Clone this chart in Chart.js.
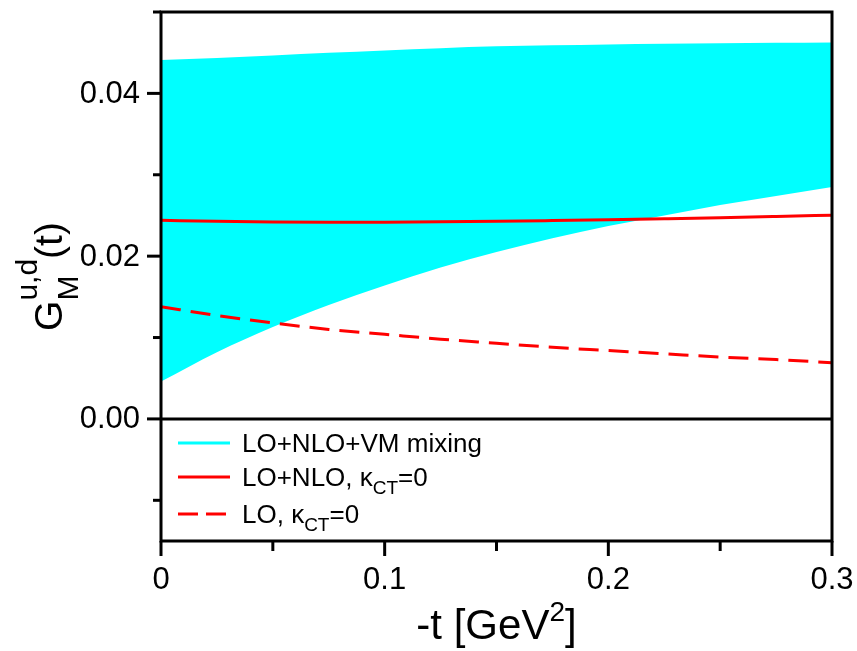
<!DOCTYPE html>
<html>
<head>
<meta charset="utf-8">
<script src="https://cdn.jsdelivr.net/npm/chart.js@4/dist/chart.umd.min.js"></script>
<style>
  html, body { margin: 0; padding: 0; background: #ffffff; }
  #wrap { width: 857px; height: 651px; }
</style>
</head>
<body>
<div id="wrap"><canvas id="c" width="857" height="651"></canvas></div>
<script>
// ---- data ----
const tValues   = [0, 0.025, 0.05, 0.075, 0.1, 0.125, 0.15, 0.175, 0.2, 0.225, 0.25, 0.275, 0.3];
const bandUpper = [0.0441, 0.04436, 0.04466, 0.04498, 0.04528, 0.04556, 0.04578, 0.04592, 0.04602, 0.0461, 0.04616, 0.04621, 0.04626];
const bandLower = [0.0046, 0.0082, 0.0113, 0.0140, 0.0164, 0.0186, 0.0205, 0.0222, 0.0237, 0.0250, 0.0263, 0.0274, 0.0285];
const nloSolid  = [0.0244, 0.02428, 0.0242, 0.02417, 0.02418, 0.02422, 0.02428, 0.02437, 0.02447, 0.02459, 0.02472, 0.02487, 0.02503];
const loDashed  = [0.0138, 0.0127, 0.0118, 0.0110, 0.0104, 0.0098, 0.0093, 0.0088, 0.0084, 0.0080, 0.0076, 0.0073, 0.0069];

const xTickValues = [0, 0.1, 0.2, 0.3];
const xTickLabels = ['0', '0.1', '0.2', '0.3'];
const xMinorTicks = [0.05, 0.15, 0.25];
const yTickValues = [0, 0.02, 0.04];
const yTickLabels = ['0.00', '0.02', '0.04'];
const yMinorTicks = [-0.01, 0.01, 0.03, 0.05];

const legendLabels = [
  {main: 'LO+NLO+VM mixing'},
  {main: 'LO+NLO, ', sym: 'κ', sub: 'CT', tail: '=0'},
  {main: 'LO, ', sym: 'κ', sub: 'CT', tail: '=0'}
];

const FONT = '"Liberation Sans", Arial, Helvetica, sans-serif';
const pts = arr => tValues.map((t, i) => ({x: t, y: arr[i]}));

const decor = {
  id: 'decor',
  afterDatasetsDraw(chart) {
    const ctx = chart.ctx;
    const {left, right, top, bottom} = chart.chartArea;
    const xs = chart.scales.x, ys = chart.scales.y;
    ctx.save();
    ctx.strokeStyle = '#000';
    ctx.lineCap = 'butt';
    ctx.lineWidth = 3;
    // zero line
    const y0 = ys.getPixelForValue(0);
    ctx.beginPath(); ctx.moveTo(left, y0); ctx.lineTo(right, y0); ctx.stroke();
    // frame
    ctx.beginPath();
    ctx.moveTo(left, top); ctx.lineTo(right, top); ctx.lineTo(right, bottom); ctx.lineTo(left, bottom); ctx.closePath();
    ctx.stroke();
    // y ticks
    yTickValues.forEach(v => {
      const p = ys.getPixelForValue(v);
      ctx.beginPath(); ctx.moveTo(left - 14, p); ctx.lineTo(left, p); ctx.stroke();
    });
    yMinorTicks.forEach(v => {
      const p = ys.getPixelForValue(v);
      ctx.beginPath(); ctx.moveTo(left - 8, p); ctx.lineTo(left, p); ctx.stroke();
    });
    // x ticks
    xTickValues.forEach(v => {
      const p = xs.getPixelForValue(v);
      ctx.beginPath(); ctx.moveTo(p, bottom); ctx.lineTo(p, bottom + 15); ctx.stroke();
    });
    xMinorTicks.forEach(v => {
      const p = xs.getPixelForValue(v);
      ctx.beginPath(); ctx.moveTo(p, bottom); ctx.lineTo(p, bottom + 10); ctx.stroke();
    });

    ctx.fillStyle = '#000';
    // tick labels
    ctx.font = '31px ' + FONT;
    ctx.textAlign = 'right'; ctx.textBaseline = 'middle';
    yTickValues.forEach((v, i) => {
      ctx.fillText(yTickLabels[i], left - 21, ys.getPixelForValue(v) + 1);
    });
    ctx.textAlign = 'center'; ctx.textBaseline = 'alphabetic';
    xTickValues.forEach((v, i) => {
      ctx.fillText(xTickLabels[i], xs.getPixelForValue(v), bottom + 48);
    });

    ctx.textAlign = 'left';
    // x title: -t [GeV^2]
    {
      const mainF = '42px ' + FONT, supF = '28px ' + FONT;
      ctx.font = mainF; const w1 = ctx.measureText('-t [GeV').width;
      ctx.font = supF; const w2 = ctx.measureText('2').width;
      ctx.font = mainF; const w3 = ctx.measureText(']').width;
      const total = w1 + w2 + w3;
      let x = (left + right) / 2 - total / 2;
      const base = 639;
      ctx.font = mainF; ctx.fillText('-t [GeV', x, base); x += w1;
      ctx.font = supF; ctx.fillText('2', x, base - 18); x += w2;
      ctx.font = mainF; ctx.fillText(']', x, base);
    }

    // y title: G_M^{u,d}(t), rotated
    {
      const mainF = '39px ' + FONT, smallF = '30px ' + FONT;
      ctx.font = mainF; const wG = ctx.measureText('G').width; const wT = ctx.measureText('(t)').width;
      ctx.font = smallF; const wM = ctx.measureText('M').width; const wUD = ctx.measureText('u,d').width;
      const wS = Math.max(wM, wUD);
      const total = wG + wS + wT;
      ctx.save();
      ctx.translate(62, (top + bottom) / 2 + total / 2);
      ctx.rotate(-Math.PI / 2);
      let x = 0;
      ctx.font = mainF; ctx.fillText('G', x, 0); x += wG;
      ctx.font = smallF; ctx.fillText('u,d', x, -25); ctx.fillText('M', x, 16); x += wS;
      ctx.font = mainF; ctx.fillText('(t)', x, 0);
      ctx.restore();
    }

    // legend
    {
      const rows = [443, 477, 514];
      const styles = [
        {color: '#00FFFF', dash: []},
        {color: '#FF0000', dash: []},
        {color: '#FF0000', dash: [20, 8]}
      ];
      const mainF = '26px ' + FONT, subF = '19px ' + FONT;
      rows.forEach((yy, i) => {
        ctx.save();
        ctx.strokeStyle = styles[i].color;
        ctx.lineWidth = 3;
        ctx.setLineDash(styles[i].dash);
        ctx.beginPath(); ctx.moveTo(178, yy); ctx.lineTo(230, yy); ctx.stroke();
        ctx.restore();
        const lab = legendLabels[i];
        const base = yy + 9;
        let x = 242;
        ctx.font = mainF; ctx.fillText(lab.main, x, base); x += ctx.measureText(lab.main).width;
        if (lab.sym) {
          ctx.fillText(lab.sym, x, base); x += ctx.measureText(lab.sym).width;
          ctx.font = subF; ctx.fillText(lab.sub, x, base + 8); x += ctx.measureText(lab.sub).width;
          ctx.font = mainF; ctx.fillText(lab.tail, x, base);
        }
      });
    }
    ctx.restore();
  }
};

new Chart(document.getElementById('c'), {
  type: 'line',
  data: {
    datasets: [
      {label: 'LO+NLO+VM mixing (upper)', data: pts(bandUpper), borderWidth: 0, borderColor: 'rgba(0,0,0,0)',
       backgroundColor: '#00FFFF', fill: '+1', pointRadius: 0, tension: 0.4, cubicInterpolationMode: 'monotone', order: 3},
      {label: 'LO+NLO+VM mixing (lower)', data: pts(bandLower), borderWidth: 0, borderColor: 'rgba(0,0,0,0)',
       fill: false, pointRadius: 0, tension: 0.4, cubicInterpolationMode: 'monotone', order: 4},
      {label: 'LO+NLO, κCT=0', data: pts(nloSolid), borderColor: '#FF0000', borderWidth: 3,
       fill: false, pointRadius: 0, tension: 0.4, cubicInterpolationMode: 'monotone', order: 1},
      {label: 'LO, κCT=0', data: pts(loDashed), borderColor: '#FF0000', borderWidth: 3, borderDash: [20, 10],
       fill: false, pointRadius: 0, tension: 0.4, cubicInterpolationMode: 'monotone', order: 2}
    ]
  },
  options: {
    responsive: false,
    animation: false,
    devicePixelRatio: 1,
    layout: {padding: {top: 12, right: 25, left: 0, bottom: 0}},
    plugins: {legend: {display: false}, tooltip: {enabled: false}},
    scales: {
      x: {
        type: 'linear', min: 0, max: 0.3,
        afterBuildTicks: s => { s.ticks = xTickValues.map(v => ({value: v})); },
        afterFit: s => { s.height = 110; },
        ticks: {display: false},
        grid: {display: false, drawTicks: false},
        border: {display: false}
      },
      y: {
        type: 'linear', min: -0.015, max: 0.05,
        afterBuildTicks: s => { s.ticks = yTickValues.map(v => ({value: v})); },
        afterFit: s => { s.width = 161; },
        ticks: {display: false},
        grid: {display: false, drawTicks: false},
        border: {display: false}
      }
    }
  },
  plugins: [decor]
});
</script>
</body>
</html>
